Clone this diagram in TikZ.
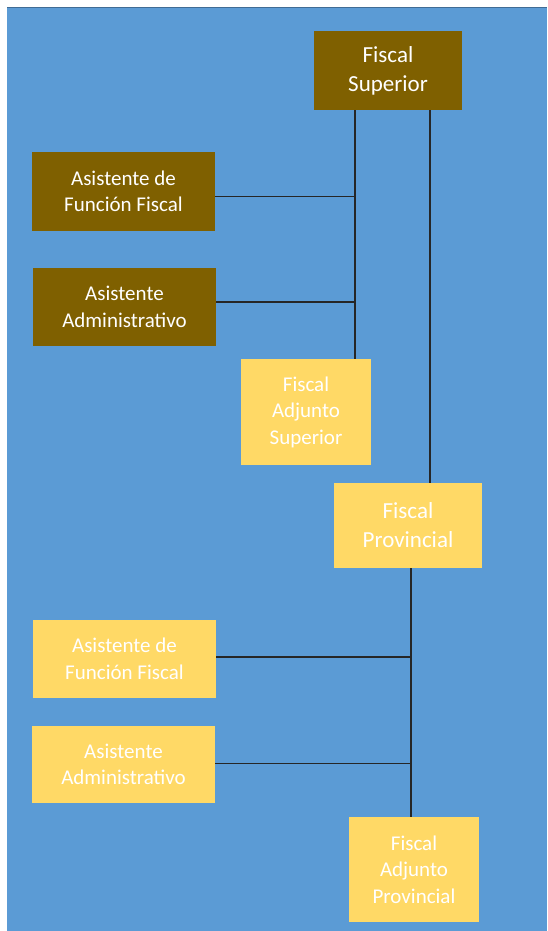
\documentclass[tikz,border=0pt]{standalone}
\usepackage{fontspec}
\setmainfont{Carlito}
\definecolor{fondo}{HTML}{5B9BD5}
\definecolor{cafe}{HTML}{7F6000}
\definecolor{amarillo}{HTML}{FFD966}
\tikzset{
 caja/.style={text=white, align=center, inner sep=0pt},
 oscuro/.style={caja, fill=cafe},
 claro/.style={caja, fill=amarillo},
 grande/.style={font=\fontsize{23}{29}\selectfont},
 chico/.style={font=\fontsize{21}{26.5}\selectfont},
 linea/.style={line width=1.2pt, black!85},
}

\begin{document}
\begin{tikzpicture}[x=1pt,y=-1pt]
\useasboundingbox (0,0) rectangle (547,931);
\fill[fondo] (7,8) rectangle (547,931);
\draw[fondo!70!black, line width=1pt] (7,8) -- (547,8);
% nivel superior
\node[oscuro, grande, minimum width=148pt, minimum height=79pt] (fs) at (388,70.5) {Fiscal\\Superior};
\node[oscuro, chico, minimum width=183pt, minimum height=79pt] (aff1) at (123.5,191.5) {Asistente de\\Función Fiscal};
\node[oscuro, chico, minimum width=183pt, minimum height=78pt] (aa1) at (124.5,307) {Asistente\\Administrativo};
\node[claro, chico, minimum width=130pt, minimum height=106pt] (fas) at (306,412) {Fiscal\\Adjunto\\Superior};
% nivel provincial
\node[claro, grande, minimum width=148pt, minimum height=85pt] (fp) at (408,525.5) {Fiscal\\Provincial};
\node[claro, chico, minimum width=183pt, minimum height=78pt] (aff2) at (124.5,659) {Asistente de\\Función Fiscal};
\node[claro, chico, minimum width=183pt, minimum height=77pt] (aa2) at (123.5,764.5) {Asistente\\Administrativo};
\node[claro, chico, minimum width=130pt, minimum height=105pt] (fap) at (414,869.5) {Fiscal\\Adjunto\\Provincial};
% conectores
\coordinate (t1) at (355,0);
\coordinate (t2) at (430,0);
\coordinate (b1) at (411,0);
\draw[linea] (t1 |- fs.south) -- (t1 |- fas.north);
\draw[linea] (t2 |- fs.south) -- (t2 |- fp.north);
\draw[linea] ([yshift=-5pt]aff1.east) -- ([yshift=-5pt]aff1.east -| t1);
\draw[linea] ([yshift=5pt]aa1.east) -- ([yshift=5pt]aa1.east -| t1);
\draw[linea] (b1 |- fp.south) -- (b1 |- fap.north);
\draw[linea] ([yshift=2pt]aff2.east) -- ([yshift=2pt]aff2.east -| b1);
\draw[linea] ([yshift=1pt]aa2.east) -- ([yshift=1pt]aa2.east -| b1);
\end{tikzpicture}
\end{document}
